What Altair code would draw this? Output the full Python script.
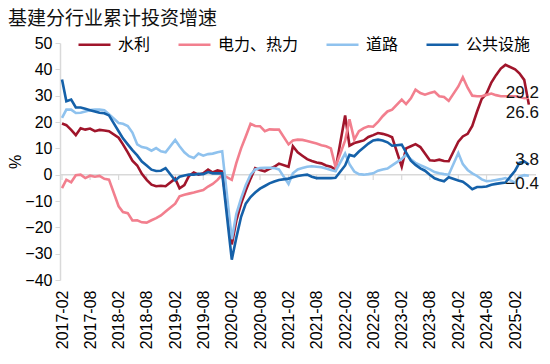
import altair as alt
import pandas as pd

# Months (cumulative data, January merged into February)
months = [f"{y}-{m:02d}" for y in range(2017, 2025) for m in range(2, 13)] + [
    "2025-02", "2025-03", "2025-04", "2025-05"]

shuili = [
    19.4, 18.8, 17.0, 15.0, 17.6, 17.1, 17.5, 16.5, 17.0, 16.8, 16.5,
    14.0, 11.5, 8.5, 5.3, 3.5, 0.3, -2.0, -3.8, -4.4, -4.2, -4.4,
    -1.5, -5.2, -4.0, -0.5, 0.8, 0.0, 0.5, 1.9, 0.8, 1.6, 1.2,
    -26.5, -17.5, -11.0, -6.0, -1.5, 2.5, 1.8, 1.3, 2.2, 3.0, 4.2,
    3.0, 10.8, 8.5, 7.2, 5.9, 5.2, 4.6, 4.3, 3.5, 3.0, 1.9,
    22.5, 11.0, 12.0, 12.5, 13.0, 14.3, 15.0, 15.8, 15.5, 15.0, 14.2,
    3.0, 10.0, 10.8, 11.6, 10.5, 8.0, 5.5, 5.3, 5.7, 5.2, 5.1,
    12.5, 14.5, 15.5, 18.5, 24.0, 28.8, 30.8, 35.0, 37.8, 40.3, 41.7,
    40.0, 38.5, 36.0, 26.6]

dianli = [
    -5.1, -1.9, -2.9, -0.2, 0.0, -1.3, -0.4, -0.8, -0.5, -1.6, -1.9,
    -12.0, -14.2, -14.6, -17.4, -17.3, -18.1, -18.2, -17.3, -16.5, -15.5, -14.0,
    -11.0, -8.2, -7.6, -7.2, -6.8, -6.3, -5.8, -4.5, -3.5, -2.0, 0.0,
    -2.0, 4.4, 10.0, 14.5, 19.3, 18.5, 18.4, 16.5, 17.2, 17.1, 17.1,
    11.5, 13.0, 13.3, 13.2, 12.8, 12.3, 11.8, 11.2, 10.8, 10.0, 3.0,
    13.0, 21.0, 13.3, 16.5, 17.7, 18.4, 18.2, 20.0, 22.2, 24.0, 24.7,
    28.5, 26.8, 29.0, 32.3, 31.0, 30.4, 31.0, 31.5, 29.8, 29.5, 28.0,
    33.5, 37.0, 33.0, 30.0, 29.8, 29.8, 30.3, 30.8, 30.2, 29.8, 29.8,
    29.8, 29.5, 29.0, 29.2]

daolu = [
    21.6, 24.7, 24.7, 23.4, 23.5, 24.0, 24.5, 24.7, 24.7, 24.5, 23.0,
    19.6, 19.3, 18.5, 16.0, 11.5, 10.5, 10.1, 9.1, 10.1, 8.9, 8.5,
    13.2, 10.8, 8.5, 7.0, 6.3, 8.0, 7.2, 7.8, 8.0, 8.5, 8.9,
    -24.5, -15.0, -9.0, -4.0, 0.0, 2.0, 2.5, 2.6, 2.6, 2.5, 2.0,
    -3.5, 0.5, 2.0, 2.5, 3.0, 3.2, 3.0, 2.8, 2.3, 1.8, 1.3,
    8.0, 4.0, 1.2, 0.2, 0.0, 0.2, 0.5, 1.5, 2.0, 2.3, 3.5,
    6.0, 7.6, 5.8, 4.5, 3.6, 2.8, 2.0, 1.0, 0.5, 0.2, 0.0,
    8.2, 4.0, 1.8, 0.5, -0.5, -1.8, -2.5, -2.3, -2.0, -1.7, -1.3,
    -3.0, -0.7, -0.2, -0.4]

gonggong = [
    36.1, 27.9, 28.5, 25.5, 25.5, 25.0, 24.5, 24.0, 23.5, 23.3, 22.5,
    16.5, 13.8, 11.5, 9.3, 7.3, 5.0, 3.5, 1.9, 1.4, 1.5, 2.5,
    -2.2, -0.8, -0.3, 0.0, 0.0, 0.3, 0.2, 1.0, 0.5, 0.5, 0.5,
    -32.3, -24.0, -16.0, -11.0, -8.5, -6.8, -5.3, -4.3, -3.3, -2.6, -2.0,
    -1.5, -1.0, -0.5, -0.2, 0.0, -0.8, -1.3, -1.3, -1.3, -1.3, -1.2,
    3.5, 7.5, 7.0, 8.8, 10.3, 11.8, 13.0, 13.3, 13.0, 12.3, 11.0,
    11.4, 8.5, 5.3, 3.7, 2.4, 1.5, 0.0, -1.4, -2.0, -2.5, -1.0,
    -2.2, -2.7, -4.0, -5.5, -4.7, -4.7, -4.5, -3.8, -3.5, -3.2, -3.0,
    1.5, 4.5, 5.0, 3.8]

series_names = ["水利", "电力、热力", "道路", "公共设施"]
series_colors = ["#A0152B", "#F27F8E", "#8FC2EE", "#1561A9"]
label_side = ["down", "up", "down", "up"]

tick_labels = ["2017-02", "2017-08", "2018-02", "2018-08", "2019-02", "2019-08",
               "2020-02", "2020-08", "2021-02", "2021-08", "2022-02", "2022-08",
               "2023-02", "2023-08", "2024-02", "2024-08", "2025-02"]
y_ticks = [-40, -30, -20, -10, 0, 10, 20, 30, 40, 50]

rows = []
for name, vals in zip(series_names, [shuili, dianli, daolu, gonggong]):
    for m, v in zip(months, vals):
        rows.append({"date": pd.Timestamp(m + "-01"), "series": name, "value": v})
df = pd.DataFrame(rows)

end_rows = []
for name, vals, side in zip(series_names, [shuili, dianli, daolu, gonggong], label_side):
    end_rows.append({"date": pd.Timestamp(months[-1] + "-01"), "series": name,
                     "value": vals[-1], "side": side})
end_df = pd.DataFrame(end_rows)

tick_df = pd.DataFrame({"date": [pd.Timestamp(t + "-01") for t in tick_labels],
                        "y0": [0] * len(tick_labels),
                        "y1": [-2] * len(tick_labels)})

AX_FONT = "Liberation Sans"
CJK = "Noto Sans CJK SC"
GRAY = "#D9D9D9"

xscale = alt.Scale(domain=[alt.DateTime(year=2017, month=1, date=19),
                           alt.DateTime(year=2025, month=6, date=16)])
yscale = alt.Scale(domain=[-40, 50], nice=False, zero=False)

x_axis = alt.Axis(
    values=[alt.DateTime(year=int(t[:4]), month=int(t[5:]), date=1) for t in tick_labels],
    format="%Y-%m", labelAngle=270, labelFontSize=16, labelFont=AX_FONT,
    labelColor="#000000", domain=False, ticks=False, grid=False, title=None,
    labelPadding=10, labelOverlap=False, labelBound=False, labelFlush=False)

y_axis = alt.Axis(
    values=y_ticks, labelFontSize=16, labelFont=AX_FONT, labelColor="#000000",
    domainColor=GRAY, domainWidth=1.5, tickColor=GRAY, tickSize=5, grid=False,
    title="%", titleFont=AX_FONT, titleFontSize=16, titleFontWeight="normal",
    titleColor="#000000", titlePadding=1, labelPadding=3)

X = alt.X("date:T", scale=xscale, axis=x_axis)

lines = alt.Chart(df).mark_line(strokeWidth=2.6).encode(
    x=X,
    y=alt.Y("value:Q", scale=yscale, axis=y_axis),
    color=alt.Color("series:N",
                    scale=alt.Scale(domain=series_names, range=series_colors),
                    sort=series_names,
                    legend=alt.Legend(
                        orient="none", legendX=17, legendY=-16,
                        direction="horizontal", title=None,
                        symbolType="stroke", symbolSize=1024,
                        symbolStrokeWidth=2.6, labelFontSize=16, labelFont=CJK,
                        labelColor="#000000", columnPadding=22, labelOffset=6,
                        padding=0)),
    order=alt.Order("date:T"))

zero_line = alt.Chart(tick_df).mark_rule(color=GRAY, strokeWidth=1.5).encode(
    y=alt.Y("mean(y0):Q", scale=yscale, axis=y_axis))

zero_ticks = alt.Chart(tick_df).mark_rule(color=GRAY, strokeWidth=1.2).encode(
    x=X,
    y=alt.Y("y0:Q", scale=yscale, axis=y_axis),
    y2="y1:Q")

def end_text(side, dy):
    return alt.Chart(end_df).transform_filter(alt.datum.side == side).mark_text(
        align="right", baseline="middle", dx=10, dy=dy, fontSize=17,
        font=AX_FONT, color="#111111").encode(
        x=X,
        y=alt.Y("value:Q", scale=yscale, axis=y_axis),
        text=alt.Text("value:Q", format=".1f"))

chart = alt.layer(
    zero_line, zero_ticks, lines, end_text("up", -5), end_text("down", 8)
).properties(
    width=476, height=237,
    padding={"left": 52, "top": 35, "right": 4, "bottom": 72},
    autosize=alt.AutoSizeParams(type="none"),
    title=alt.TitleParams("基建分行业累计投资增速", anchor="start", frame="group",
                          dx=-52, fontSize=19, font=CJK, fontWeight="normal",
                          color="#111111", offset=-2),
).configure_view(stroke=None)

chart.save("out.html", embed_options={"renderer": "svg", "actions": False})
